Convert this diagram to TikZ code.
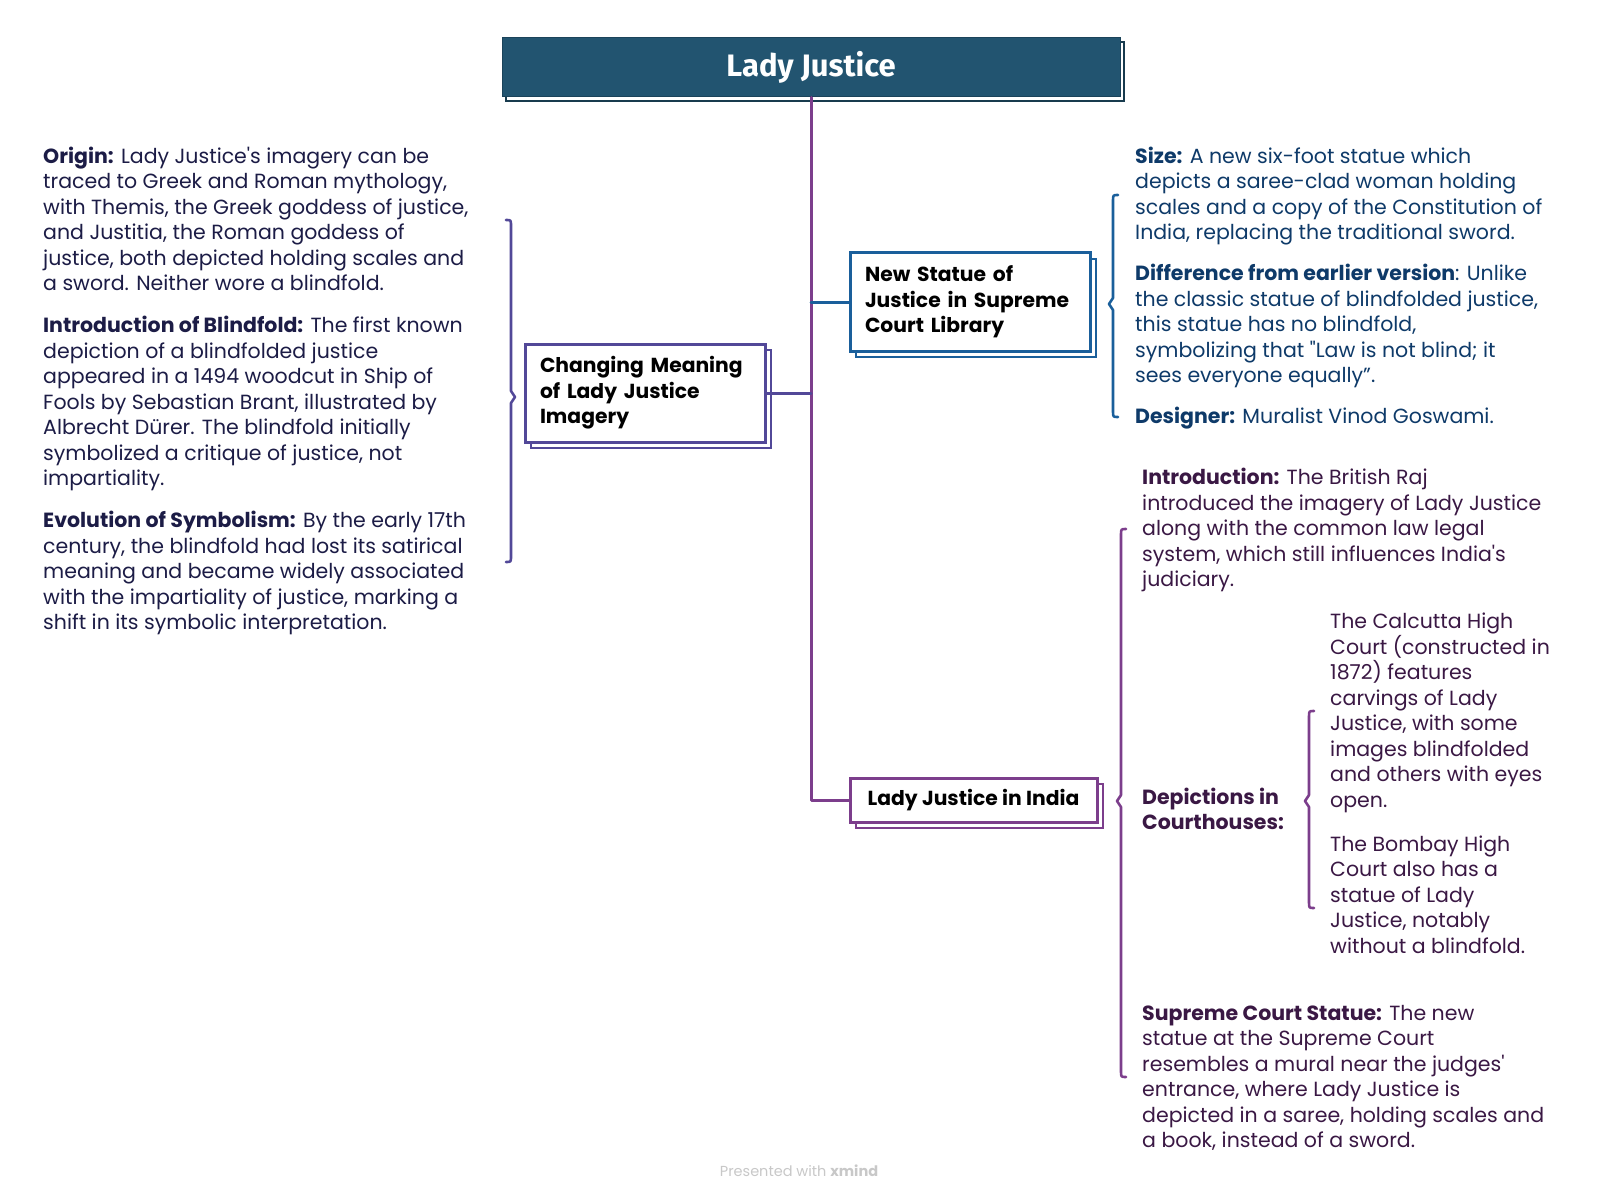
\documentclass[tikz,border=0pt]{standalone}
\usepackage{fontspec}
\setmainfont{Poppins}[Ligatures=TeXOff]
\newfontfamily\titlefont{Fira Sans}
\usetikzlibrary{shadows}
\definecolor{titlebg}{RGB}{34,84,112}
\definecolor{trunk}{RGB}{124,62,140}
\definecolor{indigo}{RGB}{82,72,152}
\definecolor{bluel}{RGB}{26,95,155}
\definecolor{txtL}{RGB}{28,28,70}
\definecolor{txtB}{RGB}{14,58,105}
\definecolor{txtP}{RGB}{58,24,68}
\definecolor{footgray}{RGB}{200,200,200}
\newcommand\mystrut{\rule{0pt}{20pt}}
\newcommand\BraceOpen[5]{% "{" : x, ytop, ybot, ymid, color
  \draw[#5,line width=2.6pt,line cap=round,line join=round]
    ({#1+5},#2) .. controls (#1,#2) .. (#1,{#2+6}) -- (#1,{#4-6}) -- ({#1-4},#4) -- (#1,{#4+6})
    -- (#1,{#3-6}) .. controls (#1,#3) .. ({#1+5},#3);}
\newcommand\BraceClose[5]{% "}"
  \draw[#5,line width=2.6pt,line cap=round,line join=round]
    ({#1-5},#2) .. controls (#1,#2) .. (#1,{#2+6}) -- (#1,{#4-6}) -- ({#1+4},#4) -- (#1,{#4+6})
    -- (#1,{#3-6}) .. controls (#1,#3) .. ({#1-5},#3);}
\begin{document}
\begin{tikzpicture}[x=1pt,y=-1pt,
  txt/.style={anchor=north west,inner sep=0pt,align=left,font=\fontsize{20.5}{25.5}\selectfont},
  topic/.style={draw=#1,fill=white,line width=3pt,align=left,inner sep=0pt,
    font=\fontsize{20.3}{25.5}\selectfont\bfseries,text=black,
    general shadow={shadow xshift=6pt,shadow yshift=-6pt,draw=#1,fill=white,line width=2.4pt}},
  conn/.style={line width=3pt,line cap=round,line join=round}]
\useasboundingbox (0,0) rectangle (1600,1198);
\fill[white] (0,0) rectangle (1600,1198);

% title
\node[fill=titlebg,draw=titlebg!80!black,line width=1pt,minimum width=618pt,minimum height=59pt,inner sep=0pt,
  text=white,font=\titlefont\fontsize{31}{34}\selectfont\bfseries,
  general shadow={shadow xshift=4pt,shadow yshift=-4pt,draw=titlebg!70!black,fill=white,line width=1.2pt}]
  (title) at (811,67.5) {\raisebox{-2.5pt}{Lady Justice}};

% topic boxes
\node[topic=indigo,minimum width=240pt,minimum height=98pt,text width=210pt] (cm) at (645,393)
  {Changing Meaning\\of Lady Justice\\Imagery};
\node[topic=bluel,minimum width=240pt,minimum height=98pt,text width=210pt] (ns) at (970,302)
  {New Statue of\\Justice in Supreme\\Court Library};
\node[topic=trunk,minimum width=247pt,minimum height=44pt] (in) at (973.5,800)
  {Lady Justice in India};

% connectors
\draw[conn,trunk] (title.south) -- (title.south |- in.west) -- (in.west);
\draw[conn,indigo] (title.south |- cm.east) -- (cm.east);
\draw[conn,bluel] (title.south |- ns.west) -- (ns.west);

% braces
\BraceClose{511}{220}{562}{397}{indigo}
\BraceOpen{1113}{195}{417}{304}{bluel}
\BraceOpen{1121}{529}{1077}{801}{trunk}
\BraceOpen{1309}{711}{908}{801}{trunk}

% left texts
\begin{scope}[every node/.append style={text=txtL}]
\node[txt] (origin) at (43,143) {\mystrut\textbf{Origin:} Lady Justice's imagery can be\\traced to Greek and Roman mythology,\\with Themis, the Greek goddess of justice,\\and Justitia, the Roman goddess of\\justice, both depicted holding scales and\\a sword. Neither wore a blindfold.};
\node[txt] (blind) at (43,312.5) {\mystrut\textbf{Introduction of Blindfold:} The first known\\depiction of a blindfolded justice\\appeared in a 1494 woodcut in Ship of\\Fools by Sebastian Brant, illustrated by\\Albrecht Dürer. The blindfold initially\\symbolized a critique of justice, not\\impartiality.};
\node[txt] (evol) at (43,507.4) {\mystrut\textbf{Evolution of Symbolism:} By the early 17th\\century, the blindfold had lost its satirical\\meaning and became widely associated\\with the impartiality of justice, marking a\\shift in its symbolic interpretation.};
\end{scope}

% right top texts
\begin{scope}[every node/.append style={text=txtB}]
\node[txt] (size) at (1135,143) {\mystrut\textbf{Size:} A new six-foot statue which\\depicts a saree-clad woman holding\\scales and a copy of the Constitution of\\India, replacing the traditional sword.};
\node[txt] (diff) at (1135,260.4) {\mystrut\textbf{Difference from earlier version}: Unlike\\the classic statue of blindfolded justice,\\this statue has no blindfold,\\symbolizing that "Law is not blind; it\\sees everyone equally”.};
\node[txt] (desig) at (1135,403.3) {\mystrut\textbf{Designer:} Muralist Vinod Goswami.};
\end{scope}

% right bottom texts
\begin{scope}[every node/.append style={text=txtP}]
\node[txt] (intro) at (1142,464.5) {\mystrut\textbf{Introduction:} The British Raj\\introduced the imagery of Lady Justice\\along with the common law legal\\system, which still influences India's\\judiciary.};
\node[txt,font=\fontsize{20.5}{25.5}\selectfont\bfseries] (dep) at (1142,783.9) {\mystrut Depictions in\\Courthouses:};
\node[txt] (calc) at (1330,608.4) {\mystrut The Calcutta High\\Court (constructed in\\1872) features\\carvings of Lady\\Justice, with some\\images blindfolded\\and others with eyes\\open.};
\node[txt] (bomb) at (1330,830.9) {\mystrut The Bombay High\\Court also has a\\statue of Lady\\Justice, notably\\without a blindfold.};
\node[txt] (sc) at (1142,1000.2) {\mystrut\textbf{Supreme Court Statue:} The new\\statue at the Supreme Court\\resembles a mural near the judges'\\entrance, where Lady Justice is\\depicted in a saree, holding scales and\\a book, instead of a sword.};
\end{scope}

% footer
\node[text=footgray,font=\fontsize{14.5}{16}\selectfont,inner sep=0pt] (foot) at (799,1171) {Presented with \textbf{xmind}};
\end{tikzpicture}
\end{document}
